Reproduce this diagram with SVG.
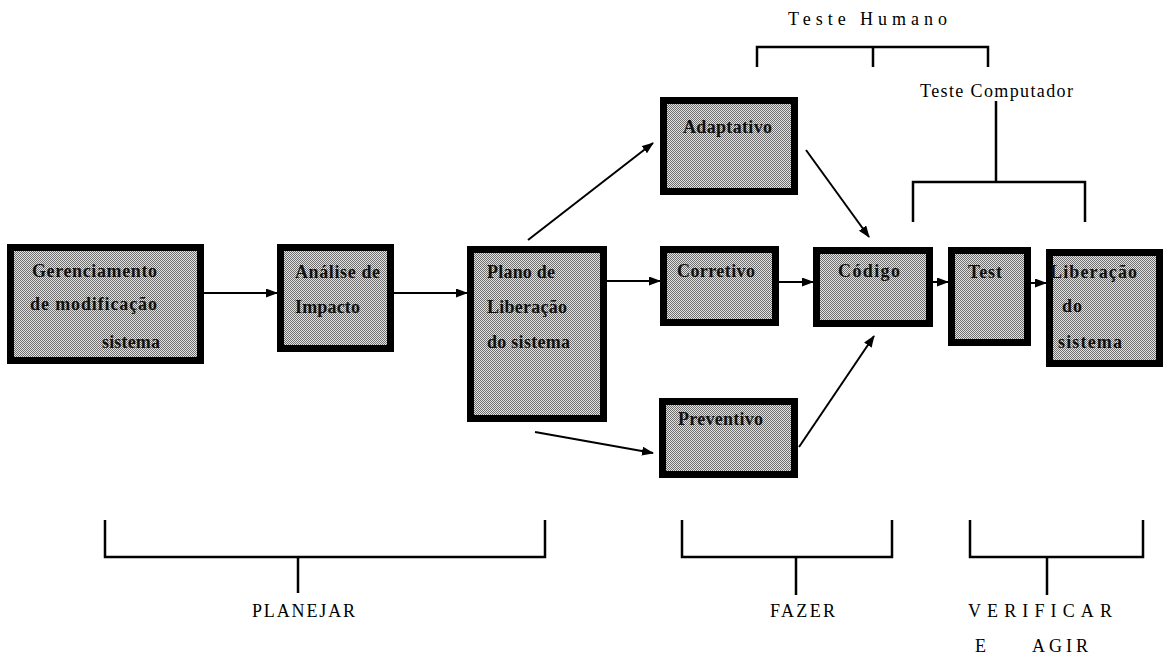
<svg xmlns="http://www.w3.org/2000/svg" width="1171" height="661" viewBox="0 0 1171 661">
  <style>
    .box { fill: url(#dither); stroke: #000; stroke-width: 7; }
    .lbl { font-family: "Liberation Serif", "Times New Roman", serif; font-size: 18px; font-weight: bold; fill: #111; }
    .cap { font-family: "Liberation Serif", "Times New Roman", serif; font-size: 18px; fill: #000; }
    .edge { stroke: #000; stroke-width: 2; fill: none; marker-end: url(#arrow); }
    .brk { stroke: #000; stroke-width: 2.5; fill: none; }
  </style>
  <defs>
    <pattern id="dither" width="2" height="2" patternUnits="userSpaceOnUse">
      <rect width="2" height="2" fill="#e4e4e4"/>
      <rect width="1" height="1" fill="#6e6e6e"/>
      <rect x="1" y="1" width="1" height="1" fill="#6e6e6e"/>
    </pattern>
    <marker id="arrow" markerUnits="userSpaceOnUse" markerWidth="12" markerHeight="10" refX="11" refY="4.5" orient="auto">
      <path d="M0,0 L12,4.5 L0,9 z" fill="#000"/>
    </marker>
  </defs>

  <rect width="1171" height="661" fill="#fff"/>

  <!-- connectors -->
  <g id="connectors">
    <line class="edge" x1="204" y1="293" x2="277" y2="293"/>
    <line class="edge" x1="394" y1="293" x2="467" y2="293"/>
    <line class="edge" x1="607" y1="281" x2="660" y2="281"/>
    <line class="edge" x1="779" y1="282" x2="813" y2="282"/>
    <line class="edge" x1="933" y1="282" x2="948" y2="282"/>
    <line class="edge" x1="1031" y1="283" x2="1046" y2="283"/>
    <line class="edge" x1="528" y1="240" x2="653" y2="143"/>
    <line class="edge" x1="806" y1="150" x2="869" y2="237"/>
    <line class="edge" x1="535" y1="432" x2="653" y2="453"/>
    <line class="edge" x1="799" y1="447" x2="874" y2="336"/>
  </g>

  <!-- process boxes -->
  <g id="gerenciamento">
    <rect class="box" x="10.5" y="247.5" width="190" height="113"/>
    <text class="lbl" x="32" y="277" textLength="125">Gerenciamento</text>
    <text class="lbl" x="30" y="310" textLength="127">de modificação</text>
    <text class="lbl" x="102" y="348" textLength="58">sistema</text>
  </g>
  <g id="analise">
    <rect class="box" x="280.5" y="247.5" width="110" height="101"/>
    <text class="lbl" x="295" y="278" textLength="85">Análise de</text>
    <text class="lbl" x="295" y="313" textLength="65">Impacto</text>
  </g>
  <g id="plano">
    <rect class="box" x="470.5" y="249.5" width="133" height="169"/>
    <text class="lbl" x="487" y="278" textLength="68">Plano de</text>
    <text class="lbl" x="487" y="313" textLength="80">Liberação</text>
    <text class="lbl" x="487" y="348" textLength="83">do sistema</text>
  </g>
  <g id="adaptativo">
    <rect class="box" x="663.5" y="100.5" width="131" height="91"/>
    <text class="lbl" x="683" y="133" textLength="89">Adaptativo</text>
  </g>
  <g id="corretivo">
    <rect class="box" x="663.5" y="249.5" width="112" height="73"/>
    <text class="lbl" x="677" y="277" textLength="78">Corretivo</text>
  </g>
  <g id="codigo">
    <rect class="box" x="816.5" y="250.5" width="113" height="73"/>
    <text class="lbl" x="838" y="277" textLength="62">Código</text>
  </g>
  <g id="preventivo">
    <rect class="box" x="662.5" y="401.5" width="132" height="73"/>
    <text class="lbl" x="678" y="425" textLength="85">Preventivo</text>
  </g>
  <g id="test">
    <rect class="box" x="951.5" y="250.5" width="76" height="92"/>
    <text class="lbl" x="968" y="278" textLength="34">Test</text>
  </g>
  <g id="liberacao">
    <rect class="box" x="1049.5" y="252.5" width="110" height="111"/>
    <text class="lbl" x="1050" y="278" textLength="87">Liberação</text>
    <text class="lbl" x="1062" y="312" textLength="20">do</text>
    <text class="lbl" x="1058" y="348" textLength="64">sistema</text>
  </g>

  <!-- test brackets -->
  <g id="teste-humano">
    <text class="cap" x="788" y="25" textLength="159" font-size="17">Teste  Humano</text>
    <path class="brk" d="M757,67 V47 H988 V67 M873,47 V67"/>
  </g>
  <g id="teste-computador">
    <text class="cap" x="920" y="97" textLength="153" font-size="19">Teste Computador</text>
    <path class="brk" d="M996,101 V182 M913,222 V182 H1085 V222"/>
  </g>

  <!-- phase brackets -->
  <g id="planejar">
    <path class="brk" d="M105,520 V557 H545 V520 M298,557 V593"/>
    <text class="cap" x="252" y="617" textLength="103">PLANEJAR</text>
  </g>
  <g id="fazer">
    <path class="brk" d="M682,520 V557 H892 V520 M796,557 V595"/>
    <text class="cap" x="770" y="617" textLength="65">FAZER</text>
  </g>
  <g id="verificar">
    <path class="brk" d="M970,520 V557 H1143 V520 M1047,557 V595"/>
    <text class="cap" x="968" y="617" textLength="144">VERIFICAR</text>
    <text class="cap" x="975" y="652">E</text>
    <text class="cap" x="1032" y="652" textLength="56">AGIR</text>
  </g>
</svg>
